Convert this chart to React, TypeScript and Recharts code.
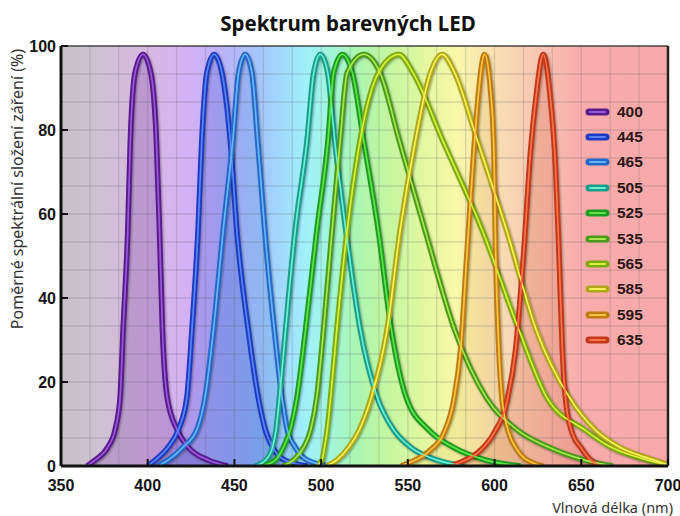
import React from 'react';
import { ComposedChart, Area, Line, XAxis, YAxis, ReferenceArea, ReferenceLine, Legend } from 'recharts';

const xTicks = [350, 400, 450, 500, 550, 600, 650, 700];
const yTicks = [0, 20, 40, 60, 80, 100];

// [wavelength nm, relative intensity %]
const s400 = [[365, 0], [369.6, 1.4], [377, 4.5], [381.2, 8.6], [384.1, 16.4], [385.8, 32.4], [388.5, 56], [390, 77.6], [392.7, 93.6], [397.3, 98], [401.8, 93.6], [405, 77.6], [406.8, 56], [408.5, 32.4], [411.2, 16.4], [417, 8.6], [423.3, 4.5], [435, 1.4], [446, 0]];
const s445 = [[400, 0], [404.3, 1.4], [411.8, 4.5], [417.6, 8.6], [422.6, 16.4], [425.5, 32.4], [429, 56], [431.2, 77.6], [434.1, 93.6], [438.3, 98], [442.8, 93.6], [447.6, 77.6], [451.4, 56], [458, 32.4], [463.7, 16.4], [467.8, 8.6], [472, 4.5], [479, 1.4], [492, 0]];
const s465 = [[406, 0], [411.8, 1.4], [420.4, 4.5], [428.3, 8.6], [433.1, 16.4], [437.9, 32.4], [443.5, 56], [449.1, 77.6], [452.4, 93.6], [456.2, 98], [460.1, 93.6], [463.4, 77.6], [467.5, 56], [473, 32.4], [477.4, 16.4], [480.5, 8.6], [485, 4.5], [492, 1.4], [505, 0]];
const s505 = [[462, 0], [468, 1.4], [472, 4.5], [474, 8.6], [476, 16.4], [479.5, 32.4], [485, 56], [491.9, 77.6], [495.7, 93.6], [499.5, 98], [503.8, 93.6], [507.8, 77.6], [514.3, 56], [522.6, 32.4], [532.3, 16.4], [541.8, 8.6], [551.5, 4.5], [567, 1.4], [582, 0]];
const s525 = [[466, 0], [473.6, 1.4], [478.3, 4.5], [482.2, 8.6], [486.1, 16.4], [491, 32.4], [497.5, 56], [504, 77.6], [507.2, 93.6], [512.2, 98], [518, 93.6], [524.5, 77.6], [533, 56], [540.5, 32.4], [549, 16.4], [562, 8.6], [576, 4.5], [595, 1.4], [615, 0]];
const s535 = [[478, 0], [484, 1.4], [490, 4.5], [494, 8.6], [497.5, 16.4], [501.4, 32.4], [506.3, 56], [511, 77.6], [515, 93.6], [524.6, 98], [534, 93.6], [545, 77.6], [560, 56], [577, 32.4], [595, 16.4], [613, 8.6], [631, 4.5], [652, 1.4], [668, 0]];
const s565 = [[497, 0], [500.5, 1.4], [502, 4.5], [503.5, 8.6], [505.5, 16.4], [509, 32.4], [515, 56], [522.5, 77.6], [533, 93.6], [544.8, 98], [553, 93.6], [570, 77.6], [593, 56], [614, 32.4], [630, 16.4], [652, 8.6], [667, 4.5], [688, 1.4], [700, 0.3]];
const s585 = [[503, 0], [509, 1.4], [516, 4.5], [522, 8.6], [529, 16.4], [538, 32.4], [545.5, 56], [554.4, 77.6], [563, 93.6], [569.8, 98], [577, 93.6], [590, 77.6], [607, 56], [624, 32.4], [643, 16.4], [658, 8.6], [672, 4.5], [692, 1.4], [700, 0.3]];
const s595 = [[546, 0], [549.6, 0.6], [563, 3.8], [570.7, 7.8], [576.5, 15.7], [580.4, 27.6], [584.2, 51.4], [588.1, 75.2], [590.8, 89], [594.2, 98], [597.8, 89], [599.6, 75.2], [600.6, 51.4], [602.5, 27.6], [604.4, 15.7], [608.3, 7.8], [613.1, 3.8], [622.7, 0.6], [628, 0]];
const s635 = [[575, 0], [578.5, 0.6], [592, 3.8], [599.6, 7.8], [607.3, 15.7], [612.1, 27.6], [616.9, 51.4], [620.8, 75.2], [623.7, 87.1], [628.1, 98], [632.3, 87.1], [634.6, 75.2], [637.1, 51.4], [639.1, 27.6], [641, 15.7], [644.8, 7.8], [649.6, 4.5], [655.4, 1.4], [661, 0]];

const seriesNames = ['400', '445', '465', '505', '525', '535', '565', '585', '595', '635'];
const seriesPoints = [s400, s445, s465, s505, s525, s535, s565, s585, s595, s635];
const outerColors = ['#561b8c', '#1c3cc4', '#2468c8', '#1c9c8c', '#1f9a22', '#4a9a1c', '#7eaa14', '#b0a818', '#c07c12', '#c2381a'];
const innerColors = ['#9a58d8', '#5a84f4', '#68b4f8', '#68f0d0', '#5ce648', '#a8e650', '#d6f03c', '#f6f05a', '#f8c444', '#f87448'];
const fillOpacity = [0.2, 0.2, 0.16, 0, 0, 0, 0, 0, 0.1, 0.16];

// background spectrum stops [nm, colour]
const bgStops: [number, string][] = [
  [350, '#c8c2c8'], [375, '#d0c0d4'], [400, '#d8b8e2'], [425, '#d4b0f6'], [445, '#b8b4fc'],
  [465, '#a4c6fc'], [480, '#a2defc'], [492, '#a0f2fa'], [505, '#a2f6dc'], [520, '#aaf6b2'],
  [540, '#c6f6a0'], [560, '#e4f8a0'], [578, '#f8f8a8'], [595, '#fae4b0'], [612, '#f8d4b4'],
  [630, '#f8c0b0'], [650, '#f8acac'], [700, '#f8a8a8'],
];

const gridX = Array.from({ length: 20 }, (_, k) => 350 + ((k + 1) * 50) / 3);
const gridY = Array.from({ length: 14 }, (_, k) => ((k + 1) * 20) / 3);

const rowMap = new Map<number, any>();
seriesPoints.forEach((pts, i) => {
  pts.forEach(([x, y]) => {
    const row = rowMap.get(x) ?? { x };
    row['s' + seriesNames[i]] = y;
    rowMap.set(x, row);
  });
});
const data = Array.from(rowMap.values()).sort((a, b) => a.x - b.x);

const tickFont = '"Liberation Sans", Arial, sans-serif';

const XTick = (props: any) => {
  const { x, y, payload } = props;
  return (
    <g>
      <line x1={x} x2={x} y1={y} y2={y - 7} stroke="#111" strokeWidth={2} />
      <text x={x} y={y + 25} textAnchor="middle" fontFamily={tickFont} fontWeight="bold" fontSize={16} fill="#151515">
        {payload.value}
      </text>
    </g>
  );
};

const YTick = (props: any) => {
  const { x, y, payload } = props;
  return (
    <g>
      <line x1={x} x2={x + 7} y1={y} y2={y} stroke="#111" strokeWidth={2} />
      <text x={x - 5} y={y} dy="0.36em" textAnchor="end" fontFamily={tickFont} fontWeight="bold" fontSize={16} fill="#151515">
        {payload.value}
      </text>
    </g>
  );
};

const renderLegend = () => (
  <div style={{ fontFamily: tickFont, fontWeight: 'bold', fontSize: 15.5, color: '#2a1616' }}>
    {seriesNames.map((name, i) => (
      <div key={name} style={{ display: 'flex', alignItems: 'center', height: 25.4 }}>
        <svg width={28} height={12}>
          <line x1={6} x2={23} y1={6} y2={6} stroke={outerColors[i]} strokeWidth={7} strokeLinecap="round" />
          <line x1={7} x2={22} y1={6} y2={6} stroke={innerColors[i]} strokeWidth={2} strokeLinecap="round" />
        </svg>
        <span style={{ marginLeft: 6 }}>{name}</span>
      </div>
    ))}
  </div>
);

export default function App() {
  return (
    <div style={{ position: 'absolute', left: 0, top: 0, width: 680, height: 516, background: '#fff' }}>
      <style>{`.tube .recharts-curve { filter: drop-shadow(1px 1.5px 1px rgba(0,0,0,0.35)); }`}</style>
      <div style={{ position: 'absolute', left: 0, width: 696, top: 9, textAlign: 'center', fontFamily: '"Noto Sans", sans-serif', fontWeight: 'bold', fontSize: 20.5, color: '#111' }}>
        Spektrum barevných LED
      </div>
      <div style={{ position: 'absolute', left: 17, top: 189, transform: 'translate(-50%, -50%) rotate(-90deg)', whiteSpace: 'nowrap', fontFamily: '"Noto Sans", sans-serif', fontSize: 16, color: '#333' }}>
        Poměrné spektrální složení záření (%)
      </div>
      <div style={{ position: 'absolute', right: 7, top: 497, whiteSpace: 'nowrap', fontFamily: '"Noto Sans", sans-serif', fontSize: 14.5, color: '#333' }}>
        Vlnová délka (nm)
      </div>
      <ComposedChart width={680} height={516} data={data} margin={{ top: 46, right: 12, bottom: 20, left: 0 }}>
        <defs>
          <linearGradient id="spec" x1="0" y1="0" x2="1" y2="0">
            {bgStops.map(([nm, c]) => (
              <stop key={nm} offset={(nm - 350) / 350} stopColor={c} />
            ))}
          </linearGradient>
        </defs>
        <XAxis
          dataKey="x"
          type="number"
          domain={[350, 700]}
          ticks={xTicks}
          height={30}
          tickSize={0}
          tickMargin={0}
          tick={<XTick />}
          axisLine={{ stroke: '#111', strokeWidth: 3 }}
          allowDataOverflow
        />
        <YAxis
          type="number"
          domain={[0, 100]}
          ticks={yTicks}
          width={61}
          tickSize={0}
          tickMargin={0}
          tick={<YTick />}
          axisLine={{ stroke: '#111', strokeWidth: 3 }}
          allowDataOverflow
        />
        <ReferenceArea x1={350} x2={700} y1={0} y2={100} fill="url(#spec)" fillOpacity={1} stroke="none" />
        {gridX.map((v) => (
          <ReferenceLine key={'gx' + v} x={v} stroke="rgba(100,100,110,0.22)" strokeWidth={1.3} />
        ))}
        {gridY.map((v) => (
          <ReferenceLine key={'gy' + v} y={v} stroke="rgba(100,100,110,0.22)" strokeWidth={1.3} />
        ))}
        {seriesNames.map((name, i) => (
          <Area
            key={'a' + name}
            dataKey={'s' + name}
            type="monotone"
            connectNulls
            stroke="none"
            fill={outerColors[i]}
            fillOpacity={fillOpacity[i]}
            isAnimationActive={false}
            legendType="none"
          />
        ))}
        {seriesNames.map((name, i) => (
          <Line
            key={'o' + name}
            className="tube"
            dataKey={'s' + name}
            type="monotone"
            connectNulls
            stroke={outerColors[i]}
            strokeWidth={5.5}
            dot={false}
            activeDot={false}
            isAnimationActive={false}
          />
        ))}
        {seriesNames.map((name, i) => (
          <Line
            key={'i' + name}
            dataKey={'s' + name}
            type="monotone"
            connectNulls
            stroke={innerColors[i]}
            strokeWidth={1.7}
            dot={false}
            activeDot={false}
            isAnimationActive={false}
            legendType="none"
          />
        ))}
        <ReferenceLine y={100} stroke="#444" strokeWidth={1.5} />
        <ReferenceLine x={700} stroke="#222" strokeWidth={2.5} />
        <Legend
          layout="vertical"
          align="center"
          verticalAlign="middle"
          content={renderLegend}
          wrapperStyle={{ left: 583, top: 99, width: 90 }}
        />
      </ComposedChart>
    </div>
  );
}
